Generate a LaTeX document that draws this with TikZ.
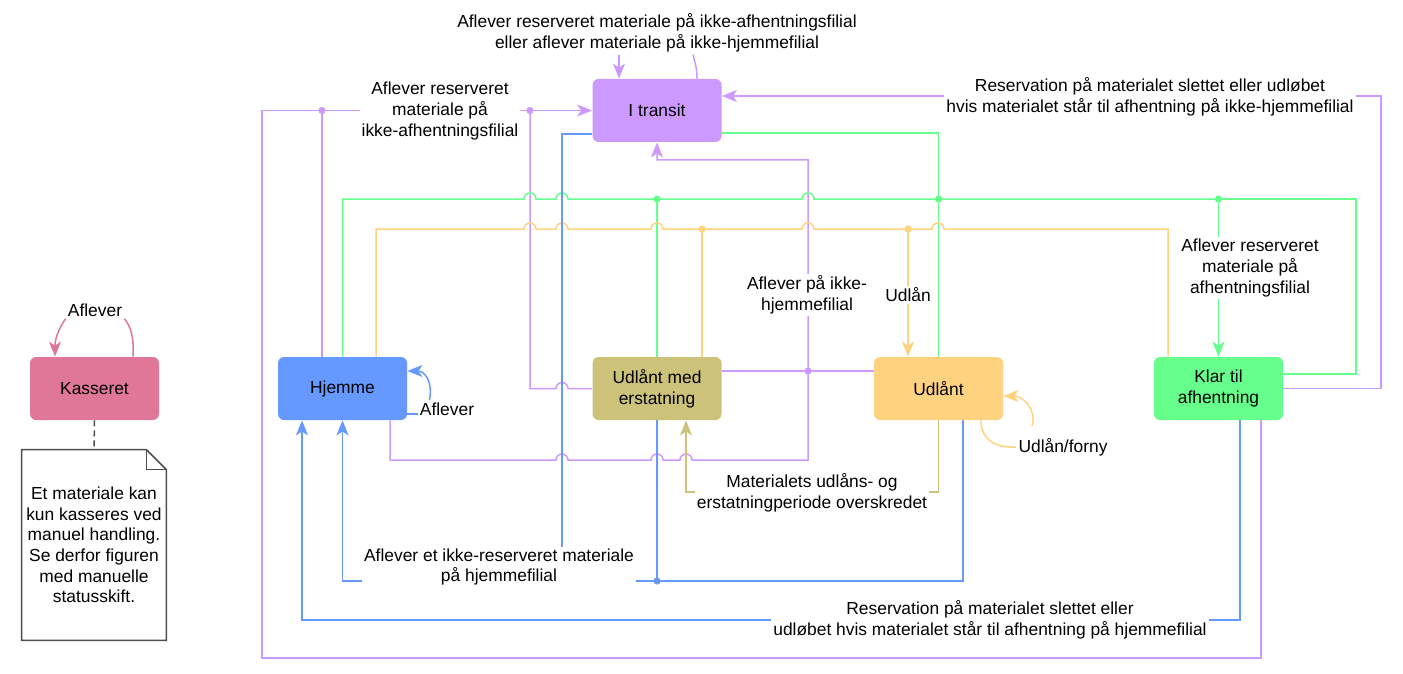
\documentclass[tikz,border=0pt]{standalone}
\usepackage{fontspec}
\setmainfont{Liberation Sans}
\usetikzlibrary{arrows.meta, positioning, backgrounds}
\definecolor{cviolet}{HTML}{CC99FF}
\definecolor{cblue}{HTML}{6699FF}
\definecolor{cgreen}{HTML}{66FF8C}
\definecolor{corange}{HTML}{FFD280}
\definecolor{colive}{HTML}{CCC27A}
\definecolor{cpink}{HTML}{E07798}
\definecolor{cgrey}{HTML}{4D4D4D}
\tikzset{
  state/.style={fill=#1, rounded corners=3pt, minimum width=64.5pt, minimum height=31.5pt, align=center, inner sep=2pt},
  notebox/.style={minimum width=72pt, minimum height=95pt, inner sep=0pt, align=center},
  lbl/.style={fill=white, inner sep=1pt, align=center},
  link/.style={draw=#1, line width=0.75pt},
  arrow/.style={-{Stealth[length=7.5pt, width=6pt, inset=2pt]}},
}
% line jumps, left-to-right and right-to-left
\newcommand{\hopr}{arc[start angle=180, end angle=0, radius=3pt]}
\newcommand{\hopl}{arc[start angle=0, end angle=180, radius=3pt]}

\begin{document}
\begin{tikzpicture}[x=0.5pt, y=-0.5pt, font=\fontsize{8.7}{10.3}\selectfont]
  \useasboundingbox (0,0) rectangle (1403,674);

  % states
  \node[state=cpink] (kasseret) at (94.5,388.5) {Kasseret};
  \node[state=cblue] (hjemme) at (342.5,388.5) {Hjemme};
  \node[state=cviolet] (transit) at (657,110.5) {I transit};
  \node[state=colive] (erstatning) at (657,388.5) {Udlånt med\\erstatning};
  \node[state=corange] (udlaant) at (938.5,388.5) {Udlånt};
  \node[state=cgreen] (klar) at (1218.5,388.5) {Klar til\\afhentning};
  \node[notebox] (note) at (94,545) {Et materiale kan\\kun kasseres ved\\manuel handling.\\Se derfor figuren\\med manuelle\\statusskift.};

  % labels
  \node[lbl] (lbtransit) at (657,33) {Aflever reserveret materiale på ikke-afhentningsfilial\\eller aflever materiale på ikke-hjemmefilial};
  \node[lbl] (lbafh) at (440,111) {Aflever reserveret\\materiale på\\ikke-afhentningsfilial};
  \node[lbl] (lbslet) at (1150,97) {Reservation på materialet slettet eller udløbet\\hvis materialet står til afhentning på ikke-hjemmefilial};
  \node[lbl] (lbikke) at (807,295) {Aflever på ikke-\\hjemmefilial};
  \node[lbl] (lbudlaan) at (908,295) {Udlån};
  \node[lbl] (lbklar) at (1250,268) {Aflever reserveret\\materiale på\\afhentningsfilial};
  \node[lbl] (lbhjemme) at (447,409) {Aflever};
  \node[lbl] (lbforny) at (1063,447) {Udlån/forny};
  \node[lbl] (lbperiode) at (812,493) {Materialets udlåns- og\\erstatningperiode overskredet};
  \node[lbl] (lbhjem) at (499,567) {Aflever et ikke-reserveret materiale\\på hjemmefilial};
  \node[lbl] (lbsletb) at (990,620) {Reservation på materialet slettet eller\\udløbet hvis materialet står til afhentning på hjemmefilial};
  \node[lbl] (lbkasseret) at (95,310) {Aflever};

  % junctions
  \coordinate (jv1) at (322,110.5);
  \coordinate (jv2) at (530,110.5);
  \coordinate (jv3) at (808,371);
  \coordinate (jg1) at (657,199);
  \coordinate (jg2) at (938.5,199);
  \coordinate (jg3) at (1218.5,199);
  \coordinate (jo1) at (702,229);
  \coordinate (jo2) at (908,229);
  \coordinate (jb1) at (657,581);

  \begin{scope}[on background layer]
    % to I transit
    \draw[link=cviolet, arrow] (hjemme.north -| jv1) |- (transit.west);
    \draw[link=cviolet] (klar.south -| 1261,0) |- (262,658) |- (jv1);
    \draw[link=cviolet] (erstatning.west) -- (568,388.5) \hopl -| (jv2);
    \draw[link=cviolet, arrow] (hjemme.south -| 390,0) |- (556,460) \hopr -- (651,460) \hopr -- (680,460) \hopr -| (808,160) -| (transit.south);
    \draw[link=cviolet] (erstatning.east |- jv3) -- (udlaant.west |- jv3);
    \draw[link=cviolet, arrow] (klar.east) -| (1381,96) -- (transit.east |- 0,96);
    \draw[link=cviolet] (transit.north -| 697,0) .. controls (697,66) and (694,60) .. (lbtransit.south -| 693,0);
    \draw[link=cviolet, arrow] (lbtransit.south -| 619,0) -- (transit.north -| 619,0);

    % to Klar til afhentning
    \draw[link=cgreen] (hjemme.north) |- (524,199) \hopr -- (556,199) \hopr -- (jg1);
    \draw[link=cgreen] (erstatning.north) -- (jg1);
    \draw[link=cgreen] (jg1) -- (802,199) \hopr -- (jg2) -- (jg3);
    \draw[link=cgreen] (transit.east |- 0,133) -| (jg2);
    \draw[link=cgreen] (udlaant.north) -- (jg2);
    \draw[link=cgreen, arrow] (jg3) -- (klar.north);
    \draw[link=cgreen] (klar.east |- 0,374) -| (1356,199) -- (jg3);

    % to Udlaant
    \draw[link=corange] (hjemme.north -| 376,0) |- (524,229) \hopr -- (556,229) \hopr -- (651,229) \hopr -- (jo1);
    \draw[link=corange] (erstatning.north -| jo1) -- (jo1);
    \draw[link=corange] (jo1) -- (802,229) \hopr -- (jo2);
    \draw[link=corange] (klar.north -| 1168,0) |- (944,229) \hopl -- (jo2);
    \draw[link=corange, arrow] (jo2) -- (udlaant.north -| jo2);
    \draw[link=corange] (udlaant.south -| 981,0) .. controls (981,440) and (996,448) .. (lbforny.west);
    \draw[link=corange, arrow] ([xshift=8pt,yshift=5pt]lbforny.north west) .. controls (1037,408) and (1022,396) .. (udlaant.east |- 0,396);

    % to Udlaant med erstatning
    \draw[link=colive, arrow] (udlaant.south) |- (686,492) -- (erstatning.south -| 686,0);

    % to Hjemme
    \draw[link=cblue] (transit.west |- 0,134) -| (562,581);
    \draw[link=cblue] (udlaant.south -| 963,0) |- (jb1);
    \draw[link=cblue] (erstatning.south) -- (jb1);
    \draw[link=cblue, arrow] (jb1) -| (hjemme.south);
    \draw[link=cblue, arrow] (klar.south -| 1240,0) |- (302,620) -- (hjemme.south -| 302,0);
    \draw[link=cblue] (hjemme.east |- 0,414) -- (lbhjemme.west |- 0,414);
    \draw[link=cblue, arrow] ([xshift=6pt]lbhjemme.north west) .. controls (433,380) and (424,371) .. (hjemme.east |- 0,371);

    % Kasseret
    \draw[link=cpink] (kasseret.north -| 133,0) .. controls (134,337) and (131,327) .. (lbkasseret.south east);
    \draw[link=cpink, arrow] (lbkasseret.south west) .. controls (60,327) and (55,337) .. (kasseret.north -| 55,0);
    \draw[cgrey, line width=0.75pt, dash pattern=on 3pt off 2pt] (kasseret.south) -- (note.north);
  \end{scope}

  % note outline
  \draw[cgrey, line width=0.75pt] (note.north west) -- ([xshift=-10pt]note.north east) -- ([yshift=-10pt]note.north east) -- (note.south east) -- (note.south west) -- cycle;
  \draw[cgrey, line width=0.75pt] ([xshift=-10pt]note.north east) |- ([yshift=-10pt]note.north east);

  \foreach \j/\c in {jv1/cviolet, jv2/cviolet, jv3/cviolet, jg1/cgreen, jg2/cgreen, jg3/cgreen, jo1/corange, jo2/corange, jb1/cblue}
    \fill[\c] (\j) circle (1.8pt);
\end{tikzpicture}
\end{document}
